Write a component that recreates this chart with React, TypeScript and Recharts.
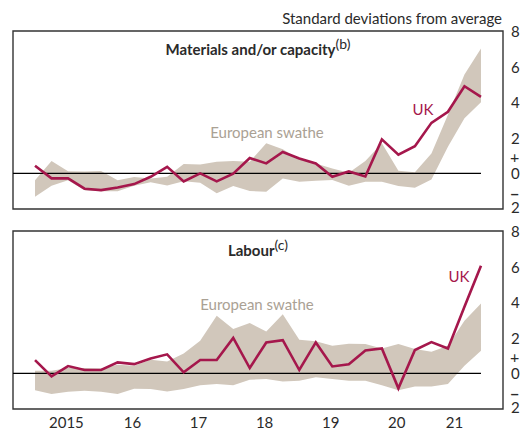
import { Area, ComposedChart, Line, ReferenceArea, ReferenceLine, XAxis, YAxis } from 'recharts'

// quarterly, 2015 Q1 to 2021 Q4
const quarters = [
  '2015 Q1', '2015 Q2', '2015 Q3', '2015 Q4',
  '2016 Q1', '2016 Q2', '2016 Q3', '2016 Q4',
  '2017 Q1', '2017 Q2', '2017 Q3', '2017 Q4',
  '2018 Q1', '2018 Q2', '2018 Q3', '2018 Q4',
  '2019 Q1', '2019 Q2', '2019 Q3', '2019 Q4',
  '2020 Q1', '2020 Q2', '2020 Q3', '2020 Q4',
  '2021 Q1', '2021 Q2', '2021 Q3', '2021 Q4',
]

const materialsUK = [
  0.43, -0.28, -0.28, -0.86, -0.94, -0.79, -0.6, -0.19, 0.37, -0.45, 0.0, -0.45, -0.02, 0.86,
  0.56, 1.2, 0.84, 0.56, -0.19, 0.11, -0.17, 1.91, 1.05, 1.53, 2.84, 3.46, 4.9, 4.3,
]
const materialsLow = [
  -1.31, -0.7, -0.38, -0.95, -1.0, -1.0, -0.7, -0.5, -0.68, -0.44, -0.52, -1.12, -0.71, -0.99,
  -1.03, -0.28, -0.47, -0.41, -0.37, -0.69, -0.47, -0.47, -0.71, -0.81, -0.34, 1.5, 3.1, 4.0,
]
const materialsHigh = [
  -0.38, 0.69, 0.12, 0.1, 0.13, -0.38, -0.2, -0.28, -0.19, 0.53, 0.5, 0.66, 0.69, 0.66,
  1.69, 1.35, 0.79, 0.56, 0.28, 0.04, 0.69, 1.69, 0.15, 0.06, 1.12, 3.3, 5.55, 7.02,
]

const labourUK = [
  0.75, -0.17, 0.41, 0.19, 0.19, 0.62, 0.52, 0.84, 1.07, 0.06, 0.75, 0.75, 1.99, 0.3,
  1.74, 1.87, 0.19, 1.74, 0.39, 0.51, 1.29, 1.4, -0.84, 1.31, 1.76, 1.4, 3.75, 6.05,
]
const labourLow = [
  -0.94, -1.16, -1.03, -0.97, -1.03, -1.16, -0.86, -0.88, -1.01, -0.88, -0.67, -0.6, -0.67, -0.36,
  -0.32, -0.45, -0.41, -0.22, -0.32, -0.41, -0.41, -0.66, -0.94, -0.73, -0.73, -0.6, 0.43, 1.27,
]
const labourHigh = [
  0.15, 0.15, 0.3, 0.3, 0.28, 0.49, 0.43, 0.77, 0.67, 1.12, 1.84, 3.24, 2.49, 2.83,
  2.36, 3.33, 1.89, 1.8, 1.55, 1.67, 1.65, 1.4, 1.65, 1.37, 1.22, 1.55, 2.96, 3.93,
]

const yearTicks = [0, 4, 8, 12, 16, 20, 24]
const yearLabelPos = [1.9, 5.9, 9.9, 13.9, 17.9, 21.9, 25.4]
const yearLabels = ['2015', '16', '17', '18', '19', '20', '21']

const valueTicks = [-2, -1, 0, 1, 2, 4, 6, 8]
const valueLabels = ['2', '−', '0', '+', '2', '4', '6', '8']
const innerTicks = [2, 4, 6]

const X_DOMAIN: [number, number] = [-4 / 3, 28 + 1 / 3]
const Y_DOMAIN: [number, number] = [-2, 8]
const FONT = 'Lato, "Open Sans", sans-serif'
const UK_RED = '#a5174c'
const SWATHE = '#d1c7bb'
const INK = '#2a2a2a'

function buildRows(uk: number[], low: number[], high: number[]) {
  return quarters.map((q, i) => ({ quarter: q, idx: i, uk: uk[i], band: [low[i], high[i]] }))
}

function ValueTick(props: any) {
  const { x, y, payload } = props
  const v = payload.value
  const i = valueTicks.indexOf(v)
  const sign = v === -1 || v === 1
  const shift = v === -2 ? -2 : v === -1 ? 2 : v === 1 ? 1 : 0
  return (
    <text
      x={sign ? x - 1 : x}
      y={y + shift}
      dominantBaseline="central"
      textAnchor="start"
      fontSize={sign ? 16 : 15}
      fontFamily={FONT}
      fontWeight={v === -1 ? 700 : 400}
      fill={INK}
    >
      {valueLabels[i]}
    </text>
  )
}

function Panel({ rows, showYears, top }: { rows: any[]; showYears: boolean; top: number }) {
  return (
    <ComposedChart
      width={524}
      height={215}
      data={rows}
      margin={{ top, right: 0, bottom: showYears ? 0 : 6, left: 13 }}
    >
      <XAxis
        xAxisId="q"
        type="number"
        dataKey="idx"
        domain={X_DOMAIN}
        allowDataOverflow
        mirror
        ticks={yearTicks}
        interval={0}
        tick={false}
        tickSize={15}
        tickLine={{ stroke: INK, strokeWidth: 1.5 }}
        axisLine={false}
      />
      {showYears && (
        <XAxis
          xAxisId="lab"
          type="number"
          dataKey="idx"
          domain={X_DOMAIN}
          allowDataOverflow
          ticks={yearLabelPos}
          interval={0}
          height={21}
          tickMargin={2}
          tickLine={false}
          axisLine={false}
          tickFormatter={(v: number) => yearLabels[yearLabelPos.indexOf(v)]}
          tick={{ fontSize: 15, fontFamily: FONT, fill: INK }}
        />
      )}
      <YAxis
        yAxisId="v"
        orientation="right"
        width={21}
        type="number"
        domain={Y_DOMAIN}
        allowDataOverflow
        ticks={valueTicks}
        interval={0}
        tick={<ValueTick />}
        tickLine={false}
        axisLine={false}
      />
      <YAxis
        yAxisId="l"
        orientation="left"
        mirror
        type="number"
        domain={Y_DOMAIN}
        ticks={innerTicks}
        interval={0}
        tick={false}
        tickSize={14}
        tickLine={{ stroke: INK, strokeWidth: 1.5 }}
        axisLine={false}
      />
      <YAxis
        yAxisId="r"
        orientation="right"
        mirror
        type="number"
        domain={Y_DOMAIN}
        ticks={innerTicks}
        interval={0}
        tick={false}
        tickSize={13}
        tickLine={{ stroke: INK, strokeWidth: 1.5 }}
        axisLine={false}
      />
      <Area
        xAxisId="q"
        yAxisId="v"
        type="linear"
        dataKey="band"
        stroke="none"
        fill={SWATHE}
        fillOpacity={1}
        isAnimationActive={false}
      />
      <ReferenceLine
        xAxisId="q"
        yAxisId="v"
        segment={[{ x: X_DOMAIN[0], y: 0 }, { x: 27, y: 0 }]}
        stroke="#000"
        strokeWidth={1.3}
      />
      <Line
        xAxisId="q"
        yAxisId="v"
        type="linear"
        dataKey="uk"
        stroke={UK_RED}
        strokeWidth={2.6}
        dot={false}
        isAnimationActive={false}
      />
      <ReferenceArea
        xAxisId="q"
        yAxisId="v"
        x1={X_DOMAIN[0]}
        x2={X_DOMAIN[1]}
        y1={Y_DOMAIN[0]}
        y2={Y_DOMAIN[1]}
        fill="none"
        fillOpacity={0}
        stroke="#333"
        strokeWidth={1.4}
        ifOverflow="visible"
      />
    </ComposedChart>
  )
}

export default function App() {
  const materialsRows = buildRows(materialsUK, materialsLow, materialsHigh)
  const labourRows = buildRows(labourUK, labourLow, labourHigh)

  return (
    <div style={{ position: 'absolute', left: 0, top: 0, width: 524, height: 430, background: '#fff', fontFamily: FONT }}>
      <div style={{ position: 'absolute', left: 0, top: 0 }}>
        <Panel rows={materialsRows} showYears={false} top={31} />
      </div>
      <div style={{ position: 'absolute', left: 0, top: 215 }}>
        <Panel rows={labourRows} showYears top={16} />
      </div>
      <svg
        width={524}
        height={430}
        style={{ position: 'absolute', left: 0, top: 0, pointerEvents: 'none' }}
        fontFamily={FONT}
      >
        <text x={502} y={24} textAnchor="end" fontSize={15} fill={INK}>
          Standard deviations from average
        </text>
        <text x={258} y={55} textAnchor="middle" fontSize={15} fontWeight={700} fill={INK}>
          Materials and/or capacity
          <tspan fontSize={14} fontWeight={400} dy={-6}>(b)</tspan>
        </text>
        <text x={258} y={256} textAnchor="middle" fontSize={15} fontWeight={700} fill={INK}>
          Labour
          <tspan fontSize={14} fontWeight={400} dy={-6}>(c)</tspan>
        </text>
        <text x={267} y={138} textAnchor="middle" fontSize={15} fill="#aaa194">
          European swathe
        </text>
        <text x={257} y={310} textAnchor="middle" fontSize={15} fill="#aaa194">
          European swathe
        </text>
        <text x={423} y={115} textAnchor="middle" fontSize={15} fill={UK_RED}>
          UK
        </text>
        <text x={459} y={282} textAnchor="middle" fontSize={15} fill={UK_RED}>
          UK
        </text>
      </svg>
    </div>
  )
}
